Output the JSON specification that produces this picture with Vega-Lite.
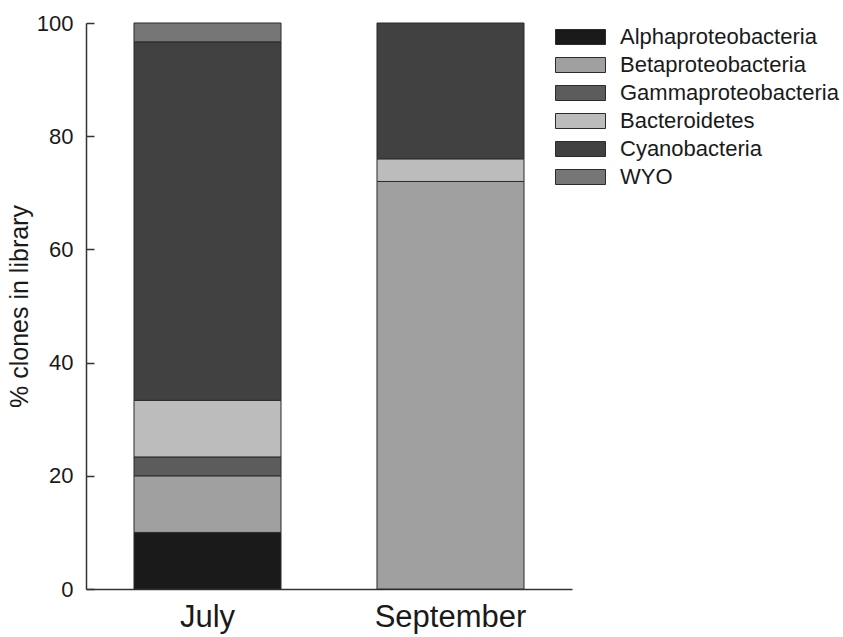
{
  "$schema": "https://vega.github.io/schema/vega-lite/v6.json",
  "width": 486,
  "height": 566,
  "autosize": "none",
  "padding": {"left": 86, "top": 23, "right": 271, "bottom": 48},
  "background": "white",
  "config": {
    "font": "Liberation Sans",
    "view": {"stroke": null}
  },
  "data": {
    "values": [
      {"month": "July", "group": "Alphaproteobacteria", "rank": 1, "pct": 10},
      {"month": "July", "group": "Betaproteobacteria", "rank": 2, "pct": 10},
      {"month": "July", "group": "Gammaproteobacteria", "rank": 3, "pct": 3.33},
      {"month": "July", "group": "Bacteroidetes", "rank": 4, "pct": 10},
      {"month": "July", "group": "Cyanobacteria", "rank": 5, "pct": 63.34},
      {"month": "July", "group": "WYO", "rank": 6, "pct": 3.33},
      {"month": "September", "group": "Betaproteobacteria", "rank": 2, "pct": 72},
      {"month": "September", "group": "Bacteroidetes", "rank": 4, "pct": 4},
      {"month": "September", "group": "Cyanobacteria", "rank": 5, "pct": 24}
    ]
  },
  "mark": {"type": "bar", "stroke": "#2b2b2b", "strokeWidth": 1},
  "encoding": {
    "x": {
      "field": "month",
      "type": "nominal",
      "sort": ["July", "September"],
      "scale": {"paddingInner": 0.395, "paddingOuter": 0.1975},
      "axis": {
        "title": null,
        "labelAngle": 0,
        "ticks": false,
        "labelPadding": 13,
        "labelFontSize": 31,
        "labelColor": "#1a1a1a",
        "domainColor": "#333333",
        "domainWidth": 1.5
      }
    },
    "y": {
      "field": "pct",
      "type": "quantitative",
      "stack": "zero",
      "scale": {"domain": [0, 100], "nice": false},
      "axis": {
        "title": "% clones in library",
        "titleFontSize": 25,
        "titleFontWeight": "normal",
        "titleColor": "#1a1a1a",
        "titlePadding": 4,
        "values": [0, 20, 40, 60, 80, 100],
        "grid": false,
        "tickSize": -8,
        "tickColor": "#333333",
        "tickWidth": 1.5,
        "labelPadding": 21,
        "labelFontSize": 22,
        "labelColor": "#1a1a1a",
        "domainColor": "#333333",
        "domainWidth": 1.5
      }
    },
    "order": {"field": "rank", "type": "quantitative"},
    "fill": {
      "field": "group",
      "type": "nominal",
      "scale": {
        "domain": ["Alphaproteobacteria", "Betaproteobacteria", "Gammaproteobacteria", "Bacteroidetes", "Cyanobacteria", "WYO"],
        "range": ["#1a1a1a", "#a0a0a0", "#5c5c5c", "#bcbcbc", "#414141", "#767676"]
      },
      "legend": {
        "title": null,
        "orient": "none",
        "legendX": 481.5,
        "legendY": 1,
        "padding": 0,
        "symbolType": "M-2,-0.6H2V0.6H-2Z",
        "symbolSize": 625,
        "symbolStrokeColor": "#2b2b2b",
        "symbolStrokeWidth": 1,
        "symbolOpacity": 1,
        "labelFontSize": 22,
        "labelColor": "#1a1a1a",
        "labelOffset": 26.5,
        "rowPadding": 4,
        "labelLimit": 300
      }
    }
  }
}
